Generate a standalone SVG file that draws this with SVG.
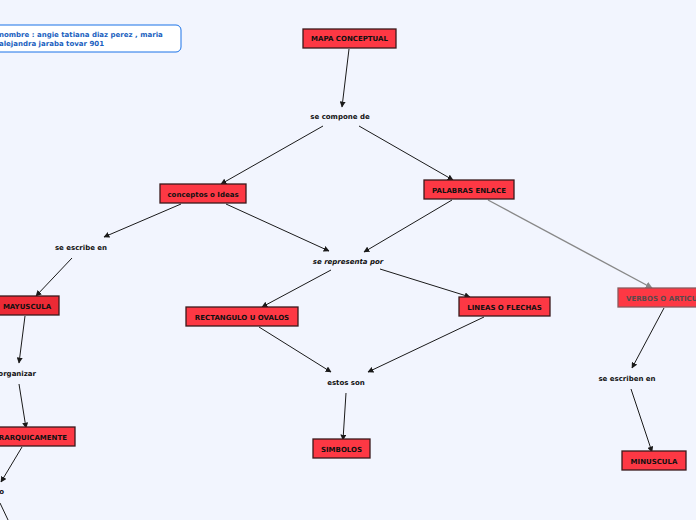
<svg xmlns="http://www.w3.org/2000/svg" width="696" height="520" viewBox="0 0 696 520">
<defs>
<style>
.bg{fill:#f2f5fe}
.n rect{fill:#fd3844;stroke:#3a1a1c;stroke-width:1.3}
.n text,.lbl{font-family:"DejaVu Sans",Verdana,sans-serif;font-weight:bold;font-size:7px;fill:#111;text-anchor:middle}
.c line{stroke:#1a1a1a;stroke-width:1;marker-end:url(#ah)}
.c line.g{stroke:#888;stroke-width:1.4;marker-end:url(#ahg)}
</style>
<marker id="ah" viewBox="0 0 10 10" refX="9" refY="5" markerWidth="6" markerHeight="6" markerUnits="userSpaceOnUse" orient="auto"><path d="M0,0L10,5L0,10z" fill="#1a1a1a"/></marker>
<marker id="ahg" viewBox="0 0 10 10" refX="9" refY="5" markerWidth="7" markerHeight="7" markerUnits="userSpaceOnUse" orient="auto"><path d="M0,0L10,5L0,10z" fill="#888"/></marker>
</defs>
<rect class="bg" x="0" y="0" width="696" height="520"/>
<g id="author">
<rect x="-12" y="25" width="193" height="27" rx="5" fill="#fff" stroke="#1a73e8" stroke-width="1"/>
<text x="-1" y="37" font-family="DejaVu Sans,Verdana,sans-serif" font-weight="bold" font-size="7px" fill="#1a5fc0">nombre : angie tatiana diaz perez , maria</text>
<text x="-1" y="46" font-family="DejaVu Sans,Verdana,sans-serif" font-weight="bold" font-size="7px" fill="#1a5fc0">alejandra jaraba tovar 901</text>
</g>
<g id="connectors" class="c">
<line x1="349" y1="49" x2="342" y2="107"/>
<line x1="323" y1="126" x2="221" y2="184"/>
<line x1="359" y1="126" x2="453" y2="180"/>
<line x1="181" y1="204" x2="104" y2="237"/>
<line x1="226" y1="204" x2="329" y2="251"/>
<line x1="452" y1="200" x2="364" y2="252"/>
<line class="g" x1="488" y1="200" x2="652" y2="288"/>
<line x1="72" y1="258" x2="36" y2="296"/>
<line x1="25" y1="316" x2="19" y2="363"/>
<line x1="19" y1="384" x2="26" y2="428"/>
<line x1="22" y1="447" x2="1" y2="482"/>
<line x1="0" y1="503" x2="9" y2="522" style="marker-end:none"/>
<line x1="331" y1="270" x2="262" y2="307"/>
<line x1="380" y1="269" x2="470" y2="297"/>
<line x1="259" y1="327" x2="331" y2="372"/>
<line x1="484" y1="317" x2="368" y2="372"/>
<line x1="346" y1="393" x2="343" y2="440"/>
<line x1="664" y1="308" x2="632" y2="368"/>
<line x1="631" y1="389" x2="652" y2="452"/>
</g>
<g id="mapa" class="n"><rect x="303" y="29" width="93" height="19"/><text x="349.5" y="41">MAPA CONCEPTUAL</text></g>
<g id="se-compone"><text class="lbl" x="340" y="119">se compone de</text></g>
<g id="conceptos" class="n"><rect x="160" y="184" width="86" height="19"/><text x="203" y="196.5">conceptos o Ideas</text></g>
<g id="palabras" class="n"><rect x="424" y="180" width="90" height="19"/><text x="469" y="192.5">PALABRAS ENLACE</text></g>
<g id="se-escribe"><text class="lbl" x="81" y="249.5">se escribe en</text></g>
<g id="se-representa"><text class="lbl" x="348" y="264" font-style="italic">se representa por</text></g>
<g id="verbos" class="n"><rect x="618" y="288" width="90" height="19" style="stroke:#8a5a5e"/><text x="626" y="300.5" style="text-anchor:start;fill:#5a4a4c">VERBOS O ARTICULOS</text></g>
<g id="mayuscula" class="n"><rect x="-6" y="296" width="65" height="19" style="fill:#ec2a35"/><text x="27" y="308.5">MAYUSCULA</text></g>
<g id="organizar"><text class="lbl" x="36" y="376" style="text-anchor:end">organizar</text></g>
<g id="jerarquicamente" class="n"><rect x="-20" y="427" width="95" height="19"/><text x="67" y="439.5" style="text-anchor:end">JERARQUICAMENTE</text></g>
<g id="o-label"><text class="lbl" x="4" y="494" style="text-anchor:end">o</text></g>
<g id="rectangulo" class="n"><rect x="186" y="307" width="112" height="19"/><text x="242" y="319.5">RECTANGULO U OVALOS</text></g>
<g id="lineas" class="n"><rect x="459" y="297" width="91" height="19"/><text x="504.5" y="309.5">LINEAS O FLECHAS</text></g>
<g id="estos-son"><text class="lbl" x="346" y="385">estos son</text></g>
<g id="simbolos" class="n"><rect x="313" y="439" width="57" height="19"/><text x="341.5" y="451.5">SIMBOLOS</text></g>
<g id="se-escriben"><text class="lbl" x="627" y="381">se escriben en</text></g>
<g id="minuscula" class="n"><rect x="622" y="451" width="64" height="19"/><text x="654" y="463.5">MINUSCULA</text></g>
</svg>
